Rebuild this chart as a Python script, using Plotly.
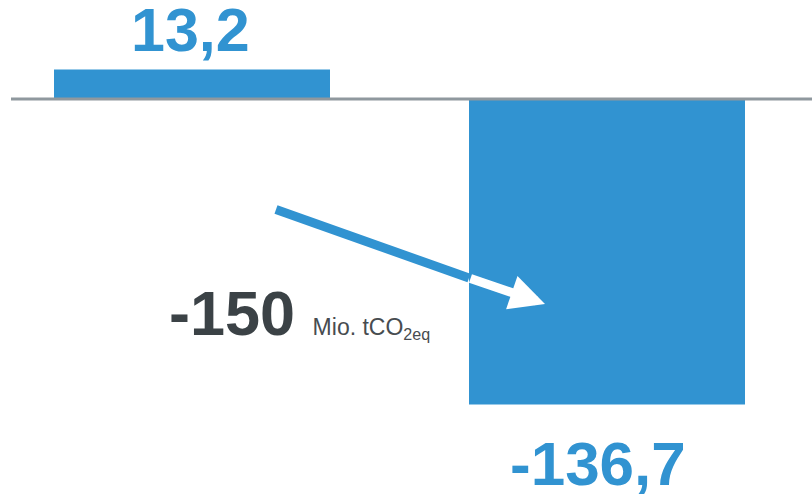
import plotly.graph_objects as go

# ---- data ----
categories = [0, 1]
values = [13.2, -136.7]
value_labels = ["13,2", "-136,7"]
target_value = "-150"
target_unit = "Mio. tCO<sub>2eq</sub>"

BLUE = "#3193D1"
DARK = "#3B4246"
GRAY_LINE = "#8F989E"

# pixel-derived scale helpers (layout only)
PX_X = 415.0          # px per x unit
PX_Y = 2.235          # px per y unit
X0_PX = 192.0         # px of category 0
Y0_PX = 99.0          # px of zero line
W, H = 812, 494

def xd(px):
    return (px - X0_PX) / PX_X

def yd(py):
    return (Y0_PX - py) / PX_Y

bar_w = 276 / PX_X

fig = go.Figure()
fig.add_trace(go.Bar(
    x=categories, y=values, width=bar_w,
    marker=dict(color=BLUE, line=dict(width=0)),
    hoverinfo="skip", showlegend=False,
))

fig.update_layout(
    width=W, height=H,
    margin=dict(l=0, r=0, t=0, b=0),
    paper_bgcolor="white", plot_bgcolor="white",
    xaxis=dict(range=[xd(0), xd(W)], visible=False, fixedrange=True),
    yaxis=dict(range=[yd(H), yd(0)], visible=False, fixedrange=True),
    showlegend=False,
)

# zero line
fig.add_shape(type="line", xref="paper", yref="y",
              x0=11 / W, x1=1, y0=0, y1=0,
              line=dict(color=GRAY_LINE, width=3), layer="above")

# value labels
fig.add_annotation(x=categories[0], y=values[0], text=value_labels[0],
                   showarrow=False, xanchor="center", yanchor="middle",
                   yshift=40, xshift=-2,
                   font=dict(family="Liberation Sans", size=61, color=BLUE, weight="bold"))
fig.add_annotation(x=categories[1], y=values[1], text=value_labels[1],
                   showarrow=False, xanchor="center", yanchor="middle",
                   yshift=-59, xshift=-9,
                   font=dict(family="Liberation Sans", size=62, color=BLUE, weight="bold"))

# arrow: blue part outside the bar, white part over the bar
edge_x = categories[1] - bar_w / 2
fig.add_shape(type="line", xref="x", yref="y",
              x0=xd(276), y0=yd(209.5), x1=edge_x, y1=yd(278),
              line=dict(color=BLUE, width=9), layer="above")
fig.add_annotation(x=xd(545), y=yd(304), ax=edge_x, ay=yd(278),
                   axref="x", ayref="y", xref="x", yref="y",
                   text="", showarrow=True, arrowhead=2, arrowsize=0.78,
                   arrowwidth=9, arrowcolor="white", standoff=0,
                   font=dict(size=1))

# target text
fig.add_annotation(x=xd(167), y=yd(313), xanchor="left", yanchor="middle",
                   text=f"{target_value} <span style='font-size:23px;font-weight:normal;color:#474C50'>{target_unit}</span>",
                   showarrow=False,
                   font=dict(family="Liberation Sans", size=63, color=DARK, weight="bold"))

fig.write_html("out.html")
